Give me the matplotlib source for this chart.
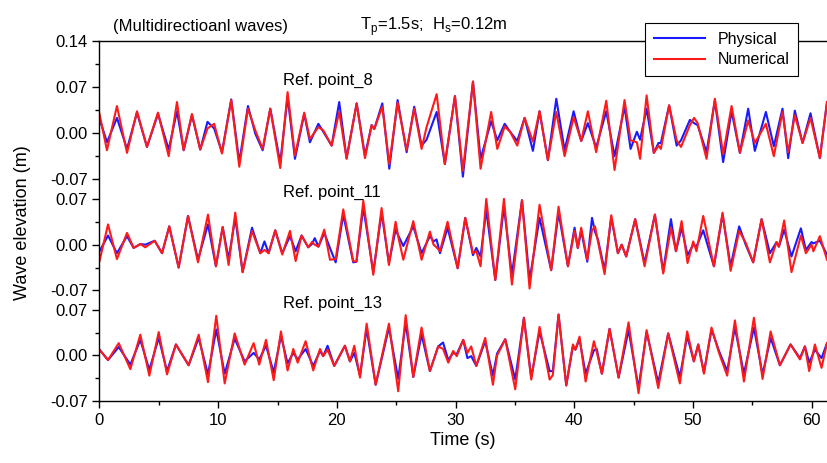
import numpy as np
import matplotlib.pyplot as plt
from matplotlib.ticker import MultipleLocator, FormatStrFormatter

plt.rcParams['font.family'] = ['Liberation Sans', 'DejaVu Sans']

# ---- data (peaks / troughs), time in s, elevation in m ----
t8 = [0, 0.63, 1.47, 2.32, 3.16, 4.0, 4.93, 5.83, 6.53, 7.09, 7.79, 8.49, 9.1, 9.66, 10.32,
      11.1, 11.78, 12.51, 13.13, 13.75, 14.39, 15.23, 15.85, 16.47, 17.25, 17.73, 18.44, 18.86,
      19.56, 20.2, 20.82, 21.67, 22.37, 22.93, 23.15, 23.83, 24.42, 25.12, 25.88, 26.52, 27.14,
      27.56, 28.41, 29.1, 29.95, 30.62, 31.47, 32.11, 33.0, 33.52, 34.14, 34.6, 35.2, 35.82,
      36.52, 37.08, 37.78, 38.49, 39.19, 39.95, 40.59, 41.15, 41.85, 42.7, 43.4, 44.24, 44.75,
      45.28, 45.55, 46.1, 46.71, 47.1, 47.3, 48.0, 48.63, 49.0, 49.75, 50.1, 50.4, 51.15, 51.85,
      52.55, 53.26, 53.96, 54.66, 55.22, 56.15, 56.82, 57.55, 58.03, 58.59, 59.24, 59.91, 60.7,
      61.3]
phys8 = [0.022, -0.014, 0.023, -0.024, 0.031, -0.021, 0.029, -0.025, 0.033, -0.026, 0.027,
         -0.025, 0.017, 0.007, -0.029, 0.051, -0.044, 0.041, -0.001, -0.026, 0.037, -0.045,
         0.055, -0.039, 0.029, -0.014, 0.014, 0.002, -0.019, 0.047, -0.038, 0.045, -0.034,
         0.012, 0.006, 0.045, -0.054, 0.050, -0.029, 0.040, -0.019, -0.010, 0.032, -0.047,
         0.056, -0.066, 0.078, -0.039, 0.018, -0.011, 0.014, 0.002, -0.012, 0.023, -0.027,
         0.033, -0.041, 0.052, -0.026, 0.033, -0.012, 0.015, -0.022, 0.033, -0.035, 0.040,
         -0.024, 0.002, -0.010, 0.037, -0.030, -0.015, -0.015, 0.042, -0.019, -0.011, 0.020,
         0.015, 0.012, -0.029, 0.049, -0.044, 0.033, -0.030, 0.037, -0.027, 0.032, -0.020,
         0.037, -0.038, 0.034, -0.015, 0.030, -0.038, 0.047]
num8 = [0.029, -0.026, 0.041, -0.030, 0.033, -0.021, 0.031, -0.035, 0.047, -0.026, 0.029,
        -0.025, 0.007, 0.014, -0.031, 0.050, -0.051, 0.037, 0.004, -0.024, 0.037, -0.053,
        0.062, -0.034, 0.031, -0.009, 0.009, 0.004, -0.019, 0.032, -0.039, 0.045, -0.038,
        0.012, 0.006, 0.040, -0.047, 0.046, -0.026, 0.037, -0.024, 0.009, 0.059, -0.047,
        0.056, -0.057, 0.078, -0.054, 0.032, -0.024, 0.010, 0.002, -0.019, 0.023, -0.013,
        0.033, -0.041, 0.032, -0.035, 0.024, -0.012, 0.033, -0.029, 0.049, -0.056, 0.050,
        -0.011, -0.014, -0.039, 0.057, -0.030, -0.019, -0.024, 0.042, -0.011, -0.021, 0.012,
        0.023, 0.015, -0.039, 0.052, -0.032, 0.041, -0.030, 0.019, -0.015, 0.014, -0.035,
        0.032, -0.029, 0.027, -0.015, 0.023, -0.038, 0.047]

t11 = [0, 0.72, 1.47, 2.32, 2.88, 3.44, 3.86, 4.65, 5.27, 5.88, 6.67, 7.46, 8.3, 9.14, 9.81,
       10.38, 10.88, 11.44, 12.06, 12.85, 13.55, 13.9, 14.25, 14.81, 15.4, 16.05, 16.53, 17.03,
       17.59, 17.9, 18.14, 18.45, 18.94, 19.42, 19.9, 20.54, 21.38, 21.65, 22.23, 23.07, 23.77,
       24.39, 24.95, 25.2, 25.6, 26.44, 27.14, 27.84, 28.15, 28.4, 28.69, 29.33, 30.18, 30.82,
       31.47, 31.75, 32.11, 32.59, 33.35, 34.08, 34.75, 35.6, 36.24, 37.08, 38.06, 38.68, 39.47,
       40.03, 40.3, 40.59, 41.1, 41.5, 41.75, 42.0, 42.56, 43.12, 43.68, 44.0, 44.38, 45.14,
       45.93, 46.8, 47.5, 48.15, 48.57, 49.05, 49.55, 50.03, 50.3, 50.87, 51.77, 52.5, 53.18,
       53.9, 54.45, 55.08, 55.79, 56.49, 57.05, 57.25, 57.69, 58.31, 59.1, 59.52, 60.0, 60.15,
       60.7, 61.3]
phys11 = [-0.010, 0.014, -0.013, 0.013, -0.005, 0.001, 0.000, 0.006, -0.013, 0.028, -0.035,
          0.044, -0.023, 0.031, -0.033, 0.027, -0.022, 0.041, -0.042, 0.026, -0.013, 0.005,
          -0.013, 0.022, -0.013, 0.013, -0.010, 0.014, -0.004, 0.001, 0.010, -0.003, 0.018,
          -0.005, -0.027, 0.046, -0.027, -0.026, 0.057, -0.042, 0.049, -0.028, 0.023, 0.013,
          -0.002, 0.028, -0.013, 0.013, 0.005, 0.008, -0.013, 0.026, -0.036, 0.041, -0.016,
          -0.005, -0.018, 0.053, -0.054, 0.058, -0.046, 0.068, -0.054, 0.041, -0.039, 0.049,
          -0.033, 0.026, -0.005, 0.021, -0.026, 0.041, 0.020, 0.008, -0.039, 0.042, -0.013,
          0.000, -0.018, 0.039, -0.028, 0.046, -0.041, 0.039, -0.010, 0.026, -0.016, 0.000,
          -0.003, 0.022, -0.033, 0.046, -0.033, 0.028, 0.000, -0.027, 0.039, -0.013, 0.004,
          -0.003, 0.023, -0.018, 0.025, -0.008, 0.004, 0.002, 0.006, -0.015]
num11 = [-0.025, 0.031, -0.022, 0.018, -0.005, 0.001, -0.004, 0.006, -0.013, 0.028, -0.035,
         0.044, -0.027, 0.046, -0.033, 0.027, -0.031, 0.049, -0.042, 0.021, -0.013, -0.008,
         -0.013, 0.022, -0.015, 0.021, -0.025, 0.014, -0.004, 0.004, 0.000, -0.003, 0.023,
         -0.023, -0.022, 0.054, -0.025, -0.026, 0.067, -0.046, 0.056, -0.031, 0.035, 0.010,
         -0.023, 0.036, -0.023, 0.020, 0.000, -0.004, -0.010, 0.035, -0.036, 0.041, -0.013,
         -0.010, -0.033, 0.070, -0.054, 0.070, -0.061, 0.068, -0.067, 0.061, -0.039, 0.058,
         -0.033, 0.021, -0.005, 0.026, -0.023, 0.022, 0.028, 0.005, -0.045, 0.045, -0.013,
         0.000, -0.018, 0.039, -0.033, 0.046, -0.044, 0.026, -0.010, 0.036, -0.028, 0.005,
         -0.010, 0.044, -0.033, 0.049, -0.040, 0.021, 0.003, -0.027, 0.039, -0.027, 0.004,
         -0.003, 0.037, -0.042, 0.014, -0.013, 0.000, -0.010, 0.013, -0.023]

t13 = [0, 0.72, 1.62, 2.6, 3.44, 4.2, 4.99, 5.69, 6.44, 7.51, 8.36, 9.14, 9.84, 10.55, 11.39,
       12.23, 12.99, 13.46, 14.03, 14.68, 15.29, 15.85, 16.33, 16.7, 17.37, 18.01, 18.58, 18.85,
       19.22, 19.78, 20.68, 21.1, 21.47, 21.95, 22.51, 23.27, 24.39, 25.17, 25.8, 26.44, 27.14,
       27.84, 28.54, 28.95, 29.39, 29.8, 30.1, 30.65, 31.0, 31.32, 31.75, 32.5, 33.15, 33.5,
       34.19, 35.03, 35.76, 36.38, 37.08, 37.93, 38.2, 38.68, 39.33, 39.89, 40.1, 40.45, 40.96,
       41.66, 41.9, 42.33, 42.98, 43.74, 44.58, 45.42, 46.1, 47.08, 47.92, 48.9, 49.52, 50.08,
       50.45, 50.93, 51.57, 52.2, 52.89, 53.54, 54.3, 55.14, 55.87, 56.55, 57.33, 58.23, 59.02,
       59.44, 59.8, 60.28, 60.84, 61.3]
phys13 = [0.009, -0.007, 0.013, -0.014, 0.024, -0.022, 0.027, -0.024, 0.017, -0.015, 0.027,
          -0.029, 0.040, -0.028, 0.026, -0.009, 0.004, -0.006, 0.015, -0.026, 0.030, -0.012,
          0.004, -0.006, 0.010, -0.016, 0.007, -0.001, 0.015, -0.016, 0.015, -0.009, 0.004,
          -0.031, 0.041, -0.045, 0.043, -0.036, 0.050, -0.033, 0.032, -0.024, 0.014, 0.020,
          -0.007, 0.004, 0.002, 0.024, -0.004, -0.001, -0.016, 0.022, -0.031, 0.003, 0.025,
          -0.037, 0.058, -0.034, 0.037, -0.024, -0.024, 0.063, -0.046, 0.014, 0.009, 0.025,
          -0.028, 0.008, 0.010, -0.028, 0.041, -0.034, 0.039, -0.050, 0.036, -0.042, 0.034,
          -0.033, 0.030, -0.009, 0.017, -0.026, 0.040, 0.007, -0.024, 0.043, -0.028, 0.043,
          -0.029, 0.027, -0.015, 0.017, -0.004, 0.014, -0.011, 0.009, -0.004, 0.019]
num13 = [0.009, -0.007, 0.019, -0.021, 0.032, -0.031, 0.036, -0.029, 0.017, -0.015, 0.032,
         -0.041, 0.061, -0.043, 0.034, -0.014, 0.019, -0.014, 0.024, -0.038, 0.037, -0.023,
         0.010, -0.011, 0.022, -0.023, 0.010, -0.001, 0.009, -0.016, 0.015, -0.009, 0.015,
         -0.034, 0.049, -0.045, 0.049, -0.055, 0.062, -0.033, 0.043, -0.024, 0.014, 0.010,
         -0.011, 0.007, -0.001, 0.024, 0.004, 0.014, -0.016, 0.027, -0.045, 0.000, 0.025,
         -0.052, 0.058, -0.037, 0.044, -0.037, -0.030, 0.063, -0.046, 0.017, 0.009, 0.029,
         -0.040, 0.022, 0.005, -0.028, 0.041, -0.034, 0.051, -0.058, 0.039, -0.050, 0.034,
         -0.043, 0.037, -0.009, 0.017, -0.028, 0.043, 0.004, -0.031, 0.054, -0.040, 0.058,
         -0.036, 0.037, -0.015, 0.017, -0.006, 0.014, -0.024, 0.017, -0.019, 0.019]

panels = [("Ref. point_8", t8, phys8, num8, 0.14),
          ("Ref. point_11", t11, phys11, num11, 0.10),
          ("Ref. point_13", t13, phys13, num13, 0.10)]

BLUE = '#1a1aff'
RED = '#ff1a1a'

fig = plt.figure(figsize=(8.27, 4.63), dpi=100)
# axes boxes in figure fraction: [left, bottom, width, height]
boxes = [[0.1203, 0.6128, 0.8797, 0.2994],
         [0.1203, 0.3726, 0.8797, 0.2402],
         [0.1203, 0.1339, 0.8797, 0.2387]]

axes = []
for (label, t, phys, num, ytop), box in zip(panels, boxes):
    ax = fig.add_axes(box)
    ax.plot(t, phys, color=BLUE, lw=1.5, solid_joinstyle='round', label='Physical')
    ax.plot(t, num, color=RED, lw=1.5, solid_joinstyle='round', label='Numerical')
    ax.set_xlim(0, 61.3)
    ax.set_ylim(-0.07, ytop)
    ax.yaxis.set_major_locator(MultipleLocator(0.07))
    ax.yaxis.set_minor_locator(MultipleLocator(0.035))
    ax.yaxis.set_major_formatter(FormatStrFormatter('%.2f'))
    ax.xaxis.set_major_locator(MultipleLocator(10))
    ax.xaxis.set_minor_locator(MultipleLocator(5))
    ax.tick_params(axis='both', which='major', direction='out', length=5, width=1.0,
                   labelsize=12, colors='black')
    ax.tick_params(axis='both', which='minor', direction='out', length=3, width=1.0)
    for s in ax.spines.values():
        s.set_linewidth(1.0)
    ax.spines['right'].set_visible(False)
    ax.spines['bottom'].set_visible(False)
    ax.spines['top'].set_visible(False)
    ax.tick_params(axis='x', which='both', bottom=False, labelbottom=False)
    ax.text(15.5, 0.079 if ytop > 0.12 else 0.080, label, fontsize=12, ha='left', va='center')
    axes.append(ax)

axes[0].spines['top'].set_visible(True)
axes[2].spines['bottom'].set_visible(True)
axes[2].tick_params(axis='x', which='both', bottom=True, labelbottom=True)
axes[2].set_xlabel('Time (s)', fontsize=13, labelpad=3)

fig.text(0.027, 0.52, 'Wave elevation (m)', rotation=90, fontsize=13, ha='center', va='center')
fig.text(0.137, 0.942, '(Multidirectioanl waves)', fontsize=12, ha='left', va='center')
fig.text(0.435, 0.942, r'T$_\mathregular{p}$=1.5s;  H$_\mathregular{s}$=0.12m', fontsize=12,
         ha='left', va='center')

handles, labels = axes[0].get_legend_handles_labels()
leg = fig.legend(handles, labels, loc='upper right', bbox_to_anchor=(0.975, 0.968),
                 fontsize=11.5, frameon=True, fancybox=False, framealpha=1,
                 handlelength=3.2, handletextpad=0.8, borderpad=0.55, labelspacing=0.35)
leg.get_frame().set_edgecolor('black')
leg.get_frame().set_linewidth(0.8)

fig.savefig('out.png', dpi=100)
